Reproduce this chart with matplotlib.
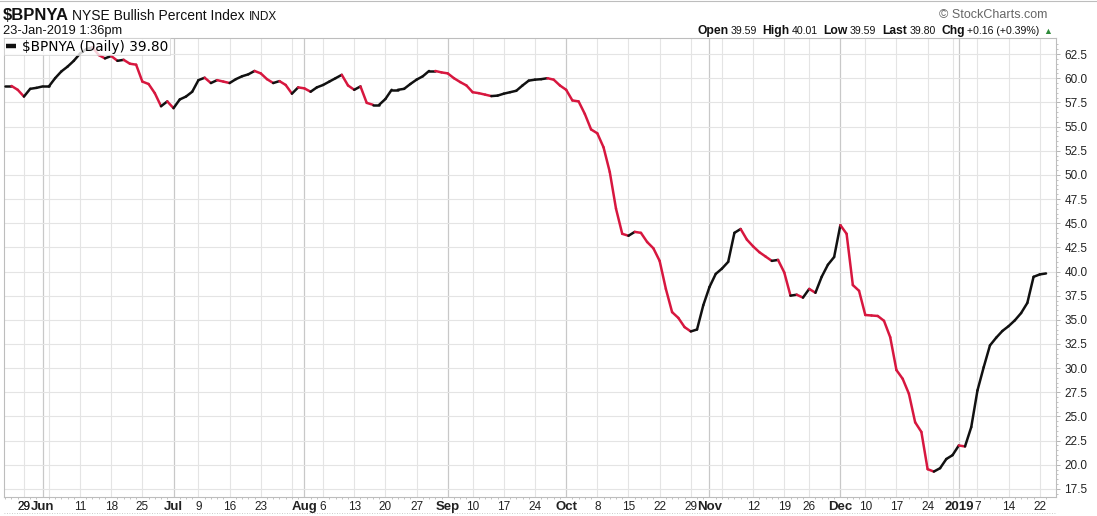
import numpy as np
import pandas as pd
import matplotlib
matplotlib.use("Agg")
import matplotlib.pyplot as plt
from matplotlib.collections import LineCollection
from matplotlib.lines import Line2D

# NYSE trading days, May 23 2018 .. Jan 23 2019
holidays = ["2018-05-28", "2018-07-04", "2018-09-03", "2018-11-22",
            "2018-12-05", "2018-12-25", "2019-01-01", "2019-01-21"]
dates = pd.bdate_range("2018-05-23", "2019-01-23", freq="C", holidays=holidays)

bpnya = [
    59.2, 59.2, 58.8, 58.1, 58.9, 59.0, 59.15, 59.15, 60.0, 60.7,
    61.2, 61.8, 62.55, 63.0, 63.2, 62.4, 62.05, 62.3, 61.8, 61.9,
    61.5, 61.4, 59.65, 59.4, 58.45, 57.1, 57.6, 56.9, 57.8, 58.1,
    58.6, 59.8, 60.05, 59.5, 59.8, 59.65, 59.5, 59.9, 60.2, 60.4,
    60.75, 60.5, 59.9, 59.5, 59.7, 59.3, 58.4, 59.05, 58.95, 58.6,
    59.05, 59.3, 59.65, 60.0, 60.35, 59.25, 58.8, 59.15, 57.45, 57.25,
    57.25, 57.85, 58.8, 58.8, 58.9, 59.4, 59.85, 60.2, 60.75, 60.75,
    60.6, 60.5, 60.0, 59.6, 59.25, 58.55, 58.45, 58.3, 58.15, 58.2,
    58.4, 58.55, 58.7, 59.25, 59.75, 59.85, 59.9, 60.0, 59.85, 59.25,
    58.8, 57.7, 57.6, 56.3, 54.7, 54.3, 52.85, 50.3, 46.5, 43.9,
    43.7, 44.1, 44.0, 43.05, 42.4, 41.1, 38.2, 35.8, 35.2, 34.25,
    33.8, 34.0, 36.5, 38.4, 39.75, 40.3, 41.0, 44.0, 44.4, 43.3,
    42.6, 42.0, 41.55, 41.1, 41.2, 39.9, 37.5, 37.6, 37.3, 38.2,
    37.8, 39.45, 40.7, 41.5, 44.8, 43.9, 38.6, 38.0, 35.5, 35.45,
    35.4, 34.9, 33.2, 29.8, 28.9, 27.35, 24.4, 23.4, 19.55, 19.3,
    19.65, 20.6, 21.0, 22.0, 21.9, 23.9, 27.7, 30.1, 32.35, 33.15,
    33.85, 34.35, 34.95, 35.7, 36.75, 39.45, 39.7, 39.8,
]

y_ticks = np.arange(17.5, 62.6, 2.5)

W, H = 1097, 516
UP, DOWN = "#111111", "#d7173f"

plt.rcParams["font.family"] = ["Liberation Sans", "DejaVu Sans"]

fig = plt.figure(figsize=(W / 100, H / 100), dpi=100)
ax = fig.add_axes([4 / W, 1 - 497 / H, (1056 - 4) / W, (497 - 38) / H])

x = np.arange(len(dates))
y = np.array(bpnya)

# week / month starts for grid and labels
month_starts = [i for i in range(1, len(dates)) if dates[i].month != dates[i - 1].month]
week_starts = [i for i in range(1, len(dates))
               if dates[i].isocalendar()[1] != dates[i - 1].isocalendar()[1]]

for i in week_starts:
    if i not in month_starts:
        ax.axvline(i, color="#e4e4e4", lw=0.8, zorder=0)
for i in month_starts:
    ax.axvline(i, color="#c8c8c8", lw=0.9, zorder=0)
for v in y_ticks:
    ax.axhline(v, color="#e4e4e4", lw=0.8, zorder=0)

# up/down coloured line
pts = np.column_stack([x, y]).reshape(-1, 1, 2)
segs = np.concatenate([pts[:-1], pts[1:]], axis=1)
cols = [UP if y[i + 1] >= y[i] else DOWN for i in range(len(y) - 1)]
lc = LineCollection(segs, colors=cols, linewidths=1.8, capstyle="round", joinstyle="round", zorder=3)
ax.add_collection(lc)

ax.set_xlim(-0.2, 168.6)
ax.set_ylim(16.67, 64.16)

# x tick labels
ticks, labels, bold = [], [], []
for i in sorted(set(week_starts) | set(month_starts)):
    if i in month_starts:
        d = dates[i]
        ticks.append(i)
        labels.append(str(d.year) if d.month == 1 else d.strftime("%b"))
        bold.append(True)
    else:
        if any(abs(i - m) <= 2 for m in month_starts):
            continue
        ticks.append(i)
        labels.append(str(dates[i].day))
        bold.append(False)
ticks = [3] + ticks
labels = ["29"] + labels
bold = [False] + bold

ax.set_xticks(ticks)
ax.set_xticklabels(labels)
for t, b in zip(ax.get_xticklabels(), bold):
    t.set_fontweight("bold" if b else "normal")
    t.set_fontsize(9.5 if b else 8.5)
ax.set_xticks(x, minor=True)
ax.tick_params(axis="x", which="major", length=0, pad=3, colors="#222222")
ax.tick_params(axis="x", which="minor", length=1.5, width=0.5, color="#aaaaaa")

ax.yaxis.tick_right()
ax.set_yticks(y_ticks)
ax.set_yticklabels([f"{v:.1f}" for v in y_ticks])
ax.set_yticks(np.arange(17.0, 64.0, 0.5), minor=True)
ax.tick_params(axis="y", which="major", length=3, width=0.6, color="#aaaaaa", pad=3,
               labelsize=8.5, labelcolor="#222222")
ax.tick_params(axis="y", which="minor", length=1.5, width=0.5, color="#aaaaaa")

for s in ax.spines.values():
    s.set_color("#bdbdbd")
    s.set_linewidth(0.8)

# legend box
handle = Line2D([], [], color="#111111", lw=3.2, solid_capstyle="butt")
leg = ax.legend([handle], ["\\$BPNYA (Daily) 39.80"], loc="upper left",
                bbox_to_anchor=(0.0, 1.0), handlelength=0.75, handletextpad=0.45,
                borderpad=0.12, borderaxespad=0.0, frameon=True, fancybox=False,
                prop={"family": "DejaVu Sans", "size": 9.8})
leg.get_frame().set_edgecolor("#d0d0d0")
leg.get_frame().set_linewidth(0.6)
leg.set_zorder(5)


def row(x_px, y_px, parts):
    renderer = fig.canvas.get_renderer()
    xx = x_px
    for text, size, weight, color, gap in parts:
        t = fig.text(xx / W, 1 - y_px / H, text, fontsize=size, fontweight=weight,
                     color=color, ha="left", va="baseline")
        xx += t.get_window_extent(renderer).width + gap
    return xx


row(3, 20, [("\\$BPNYA", 12, "bold", "#111111", 3),
            ("NYSE Bullish Percent Index", 10, "normal", "#111111", 4),
            ("INDX", 8.5, "normal", "#111111", 0)])
row(3, 34, [("23-Jan-2019 1:36pm", 9.3, "normal", "#111111", 0)])

fig.text(1047 / W, 1 - 18 / H, "\u00a9 StockCharts.com", fontsize=9, color="#666666",
         ha="right", va="baseline")

B, N = 8.7, 7.6
row(697, 34, [("Open", B, "bold", "#111111", 2), ("39.59", N, "normal", "#111111", 6),
              ("High", B, "bold", "#111111", 2), ("40.01", N, "normal", "#111111", 6),
              ("Low", B, "bold", "#111111", 2), ("39.59", N, "normal", "#111111", 6),
              ("Last", B, "bold", "#111111", 2), ("39.80", N, "normal", "#111111", 6),
              ("Chg", B, "bold", "#111111", 2), ("+0.16 (+0.39%)", N, "normal", "#111111", 4),
              ("\u25b2", 6.5, "normal", "#2e8b3a", 0)])

# frame lines of the chart image
fig.add_artist(Line2D([0, 1], [1 - 1 / H, 1 - 1 / H], color="#bdbdbd", lw=0.8))
fig.add_artist(Line2D([4 / W, 1056 / W], [1 - 513 / H, 1 - 513 / H], color="#bbbbbb",
                      lw=0.6, ls=(0, (1, 2))))

fig.savefig("out.png", dpi=100)
